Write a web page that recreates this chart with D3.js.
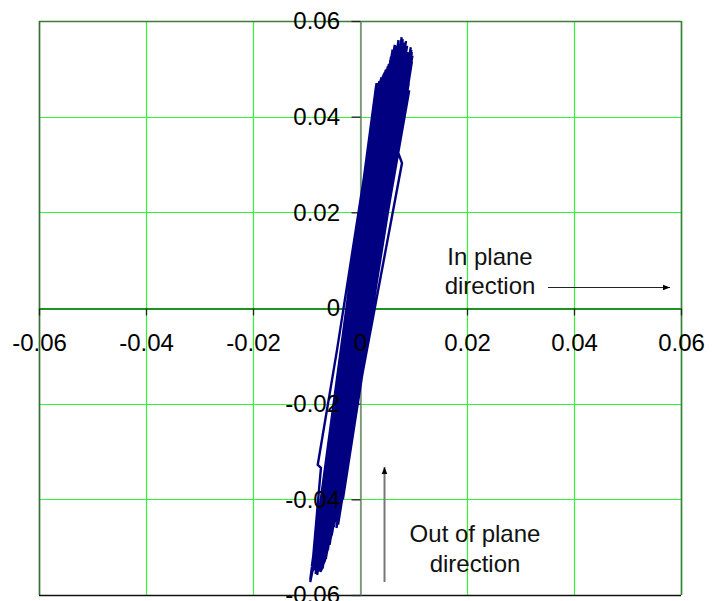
<!DOCTYPE html>
<html>
<head>
<meta charset="utf-8">
<script src="https://cdn.jsdelivr.net/npm/d3@7"></script>
<style>
    body { margin: 0; background: #fff; }
    text { font-family: "Liberation Sans", Arial, sans-serif; }
</style>
</head>
<body>
<script>
    // turning points of the trace, in plane (x) and out of plane (y)
    var inPlane = [
        0.0060, -0.0070, 0.0032, -0.0088, 0.0070, -0.0060, 0.0045, -0.0082,
        0.0085, -0.0050, 0.0038, -0.0091, 0.0078, -0.0066, 0.0052, -0.0078,
        0.0094, -0.0055, 0.0065, -0.0085, 0.0041, -0.0093, 0.0090, -0.0045,
        0.0072, -0.0072, 0.0056, -0.0086, 0.0097, -0.0058, 0.0035, -0.0043, -0.0079, -0.0073, -0.0090,
        0.0082, -0.0064, 0.0048, -0.0080, 0.0068, -0.0068, 0.0088, -0.0052,
        0.0030, -0.0087, 0.0075, -0.0074, 0.0058, -0.0062, 0.0095, -0.0048, 0.0028, 0.00785, 0.0071,
        0.0043, -0.0084, 0.0080, -0.0070, 0.0062, -0.0076, 0.0092, -0.0056,
        0.0050, -0.0089, 0.0086, -0.0066, 0.0039, -0.0083, 0.0074, -0.0060,
        0.0054, -0.0079, 0.0096, -0.0053, 0.0066, -0.0073, 0.0046, -0.0088,
        0.0084, -0.0063, 0.0071, -0.0081, 0.0033, -0.0069, 0.0089, -0.0090,
        0.0031, -0.0086, 0.0093, -0.0047, 0.0061, -0.0092, 0.0087, -0.0051,
        0.0037, -0.0077, 0.0079, -0.0057, 0.0098, -0.0049, 0.0034, -0.0089,
        0.0069, -0.0065, 0.0091, -0.0046, 0.0044, -0.0091, 0.0083, -0.0061,
        0.0057, -0.0075, 0.0095, -0.0054, 0.0036, -0.0085, 0.0077, -0.0067,
        0.0030, -0.0092, 0.0096, -0.0032, 0.0033, -0.0090, 0.0092, -0.0038,
        0.0031, -0.0093, 0.0097, -0.0041, 0.0040, -0.0088, 0.0094, -0.0044
    ];
    var outPlane = [
        0.0520, -0.0540, 0.0465, -0.0545, 0.0545, -0.0500, 0.0490, -0.0555,
        0.0540, -0.0455, 0.0475, -0.0560, 0.0566, -0.0530, 0.0505, -0.0550,
        0.0530, -0.0480, 0.0550, -0.0520, 0.0480, -0.0573, 0.0450, -0.0440,
        0.0560, -0.0548, 0.0512, -0.0540, 0.0535, -0.0490, 0.0470, -0.0088, -0.0328, -0.0334, -0.0552,
        0.0555, -0.0525, 0.0498, -0.0558, 0.0540, -0.0535, 0.0548, -0.0470,
        0.0462, -0.0515, 0.0552, -0.0552, 0.0525, -0.0512, 0.0520, -0.0450, 0.0002, 0.0303, 0.0326,
        0.0485, -0.0548, 0.0562, -0.0545, 0.0535, -0.0540, 0.0455, -0.0485,
        0.0500, -0.0535, 0.0558, -0.0528, 0.0478, -0.0556, 0.0548, -0.0505,
        0.0510, -0.0545, 0.0540, -0.0475, 0.0545, -0.0550, 0.0492, -0.0528,
        0.0550, -0.0518, 0.0530, -0.0550, 0.0468, -0.0538, 0.0535, -0.0545,
        0.0470, -0.0530, 0.0505, -0.0448, 0.0540, -0.0565, 0.0530, -0.0462,
        0.0472, -0.0542, 0.0550, -0.0495, 0.0528, -0.0458, 0.0468, -0.0548,
        0.0548, -0.0520, 0.0470, -0.0445, 0.0488, -0.0555, 0.0545, -0.0508,
        0.0518, -0.0548, 0.0545, -0.0478, 0.0474, -0.0538, 0.0558, -0.0532,
        0.0463, -0.0562, 0.0520, -0.0400, 0.0470, -0.0540, 0.0480, -0.0430,
        0.0466, -0.0568, 0.0515, -0.0453, 0.0482, -0.0550, 0.0525, -0.0460
    ];
    var tickValues = [-0.06, -0.04, -0.02, 0, 0.02, 0.04, 0.06];

    var width = 720, height = 601;
    var pLeft = 39, pRight = 681, pTop = 21, pBottom = 595;

    var svg = d3.select("body").append("svg")
        .attr("width", width)
        .attr("height", height);

    var x = d3.scaleLinear().domain([-0.06, 0.06]).range([pLeft, pRight]);
    var y = d3.scaleLinear().domain([-0.06, 0.06]).range([pBottom, pTop]);
    var fmt = function(d) { return d === 0 ? "0" : d.toFixed(2); };
    var px = function(v) { return Math.round(v) + 0.5; };

    // green grid
    var grid = svg.append("g");
    grid.selectAll(".vg").data(tickValues).enter().append("line")
        .attr("x1", d => px(x(d))).attr("x2", d => px(x(d)))
        .attr("y1", pTop).attr("y2", pBottom)
        .attr("stroke", "#33f533").attr("stroke-width", 1.2);
    grid.selectAll(".hg").data(tickValues).enter().append("line")
        .attr("x1", pLeft).attr("x2", pRight)
        .attr("y1", d => px(y(d))).attr("y2", d => px(y(d)))
        .attr("stroke", "#33f533").attr("stroke-width", 1.2);

    // plot frame
    var frame = svg.append("g");
    frame.append("line").attr("x1", pLeft).attr("x2", pRight).attr("y1", pTop + 0.5).attr("y2", pTop + 0.5)
        .attr("stroke", "#3b7d3b").attr("stroke-width", 1.6);
    frame.append("line").attr("x1", pLeft + 0.5).attr("x2", pLeft + 0.5).attr("y1", pTop).attr("y2", pBottom)
        .attr("stroke", "#3b6b3b").attr("stroke-width", 1.6);
    frame.append("line").attr("x1", pRight + 0.5).attr("x2", pRight + 0.5).attr("y1", pTop).attr("y2", pBottom)
        .attr("stroke", "#3b7d3b").attr("stroke-width", 1.6);
    frame.append("line").attr("x1", pLeft).attr("x2", pRight).attr("y1", pBottom + 0.5).attr("y2", pBottom + 0.5)
        .attr("stroke", "#111").attr("stroke-width", 1.6);

    // axis lines and ticks (under the trace)
    var yAxisLines = svg.append("g")
        .attr("transform", "translate(" + px(x(0)) + ",0)")
        .call(d3.axisLeft(y).tickValues(tickValues).tickSize(9).tickSizeOuter(0).tickFormat(""));
    yAxisLines.select(".domain").attr("stroke", "#888").attr("stroke-width", 1.6);
    yAxisLines.selectAll(".tick line").attr("stroke", "#222").attr("stroke-width", 1.3);

    var xAxisLines = svg.append("g")
        .attr("transform", "translate(0," + px(y(0)) + ")")
        .call(d3.axisBottom(x).tickValues(tickValues).tickSize(7).tickSizeOuter(0).tickFormat(""));
    xAxisLines.select(".domain").attr("stroke", "#1f931f").attr("stroke-width", 2);
    xAxisLines.selectAll(".tick line").attr("stroke", "#222").attr("stroke-width", 1.3);

    // trace
    var pts = d3.zip(inPlane, outPlane);
    svg.append("path")
        .datum(pts)
        .attr("fill", "none")
        .attr("stroke", "#000080")
        .attr("stroke-width", 2.4)
        .attr("stroke-linejoin", "miter")
        .attr("d", d3.line().x(d => x(d[0])).y(d => y(d[1])));

    // tick labels (over the trace)
    var yLabels = svg.append("g")
        .attr("transform", "translate(" + x(0) + ",0)")
        .call(d3.axisLeft(y).tickValues(tickValues).tickSize(9).tickPadding(11).tickFormat(fmt));
    yLabels.select(".domain").remove();
    yLabels.selectAll(".tick line").remove();
    yLabels.selectAll("text").attr("font-size", 24).attr("font-family", "Liberation Sans, Arial, sans-serif").attr("fill", "#000");

    var xLabels = svg.append("g")
        .attr("transform", "translate(0," + y(0) + ")")
        .call(d3.axisBottom(x).tickValues(tickValues).tickSize(7).tickPadding(19).tickFormat(fmt));
    xLabels.select(".domain").remove();
    xLabels.selectAll(".tick line").remove();
    xLabels.selectAll("text").attr("font-size", 24).attr("font-family", "Liberation Sans, Arial, sans-serif").attr("fill", "#000");

    // annotations
    var defs = svg.append("defs");
    defs.append("marker").attr("id", "arr")
        .attr("viewBox", "0 0 10 10").attr("refX", 10).attr("refY", 5)
        .attr("markerWidth", 7).attr("markerHeight", 7).attr("markerUnits", "userSpaceOnUse")
        .attr("orient", "auto")
        .append("path").attr("d", "M0,1 L10,5 L0,9 Z").attr("fill", "#000");

    var note = svg.append("g").attr("font-size", 24).attr("text-anchor", "middle").attr("fill", "#111");
    note.append("text").attr("x", 490).attr("y", 265).text("In plane");
    note.append("text").attr("x", 490).attr("y", 294).text("direction");
    note.append("text").attr("x", 475).attr("y", 542).text("Out of plane");
    note.append("text").attr("x", 475).attr("y", 572).text("direction");

    svg.append("line").attr("x1", 548).attr("x2", 670).attr("y1", 287.5).attr("y2", 287.5)
        .attr("stroke", "#222").attr("stroke-width", 1.2).attr("marker-end", "url(#arr)");
    svg.append("line").attr("x1", 384.5).attr("x2", 384.5).attr("y1", 582).attr("y2", 467)
        .attr("stroke", "#777").attr("stroke-width", 2).attr("marker-end", "url(#arr)");
</script>
</body>
</html>
